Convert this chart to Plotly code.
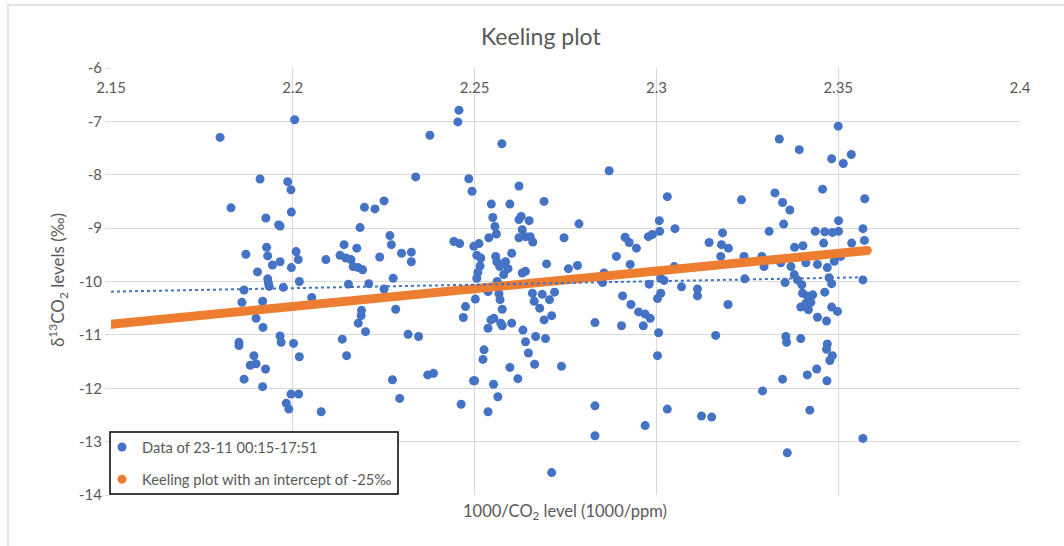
import plotly.graph_objects as go

# ---- data ----
data_x = [
    2.1800, 2.2005, 2.1830, 2.1910, 2.1986, 2.1995, 2.1996, 2.1926, 2.1961, 2.1965,
    2.1871, 2.1928, 2.1931, 2.1944, 2.1965, 2.1996, 2.2009, 2.2015, 2.1903, 2.1931,
    2.1933, 2.1935, 2.1974, 2.2018, 2.1866, 2.1860, 2.1917, 2.1899, 2.1918, 2.1965,
    2.1968, 2.2002, 2.1852, 2.1852, 2.2018, 2.1893, 2.1883, 2.1899, 2.1925, 2.1866,
    2.1917, 2.1995, 2.2016, 2.1982, 2.1989,
    2.2052, 2.2091, 2.2130, 2.2141, 2.2146, 2.2160, 2.2166, 2.2176, 2.2180, 2.2192,
    2.2185, 2.2197, 2.2226, 2.2251, 2.2153, 2.2209, 2.2239, 2.2267, 2.2271, 2.2251,
    2.2276, 2.2299, 2.2326, 2.2326, 2.2338, 2.2377, 2.2457, 2.2454, 2.2484, 2.2493,
    2.2443, 2.2459, 2.2189, 2.2188, 2.2180, 2.2200, 2.2136, 2.2148, 2.2283, 2.2317,
    2.2346, 2.2274, 2.2294, 2.2078, 2.2371, 2.2387, 2.2463, 2.2497, 2.2475, 2.2469,
    2.2575, 2.2622, 2.2546, 2.2597, 2.2691, 2.2870, 2.3030, 2.2550, 2.2556, 2.2560,
    2.2539, 2.2628, 2.2622, 2.2650, 2.2631, 2.2622, 2.2640, 2.2653, 2.2660, 2.2602,
    2.2558, 2.2561, 2.2569, 2.2585, 2.2592, 2.2580, 2.2631, 2.2640, 2.2698, 2.2746,
    2.2787, 2.2758, 2.2783, 2.2856, 2.2852, 2.2890, 2.2914, 2.2925, 2.2945, 2.2928,
    2.2978, 2.2989, 2.3009, 2.3008, 2.2980, 2.3012, 2.3021, 2.3012, 2.3003, 2.2907,
    2.2930, 2.2951, 2.2969, 2.2983, 2.2964, 2.2904, 2.2831, 2.3006, 2.3003, 2.3030,
    2.2969, 2.2831, 2.2831, 2.2712,
    2.2498, 2.2512, 2.2506, 2.2517, 2.2515, 2.2509, 2.2506, 2.2537, 2.2502,
    2.2562, 2.2570, 2.2567, 2.2570, 2.2576, 2.2553, 2.2545, 2.2572, 2.2576, 2.2602,
    2.2537, 2.2659, 2.2664, 2.2686, 2.2706, 2.2679, 2.2720, 2.2691, 2.2712, 2.2633,
    2.2640, 2.2668, 2.2695, 2.2526, 2.2523, 2.2648, 2.2665, 2.2597, 2.2619, 2.2739,
    2.2500, 2.2552, 2.2564, 2.2537,
    2.3500, 2.3338, 2.3393, 2.3482, 2.3514, 2.3536, 2.3234, 2.3326, 2.3347, 2.3367,
    2.3457, 2.3350, 2.3051, 2.3182, 2.3145, 2.3179, 2.3198, 2.3177, 2.3310, 2.3437,
    2.3463, 2.3484, 2.3501, 2.3501, 2.3460, 2.3380, 2.3403, 2.3537, 2.3241, 2.3290,
    2.3296, 2.3243, 2.3049, 2.3069, 2.3113, 2.3113, 2.3197, 2.3342, 2.3370, 2.3379,
    2.3354, 2.3388, 2.3400, 2.3411, 2.3443, 2.3470, 2.3475, 2.3482, 2.3489, 2.3507,
    2.3463, 2.3402, 2.3415, 2.3430, 2.3411, 2.3425, 2.3397, 2.3418, 2.3443, 2.3468,
    2.3482, 2.3498, 2.3163, 2.3356, 2.3358, 2.3397, 2.3470, 2.3468, 2.3484, 2.3477,
    2.3441, 2.3415, 2.3347, 2.3469, 2.3292, 2.3124, 2.3152, 2.3422, 2.3360,
    2.3573, 2.3568, 2.3572, 2.3568, 2.3568,
]
data_y = [
    -7.30, -6.97, -8.62, -8.08, -8.13, -8.28, -8.70, -8.81, -8.94, -8.96,
    -9.49, -9.36, -9.52, -9.69, -9.63, -9.74, -9.44, -9.59, -9.82, -9.95,
    -10.03, -10.09, -10.11, -10.00, -10.16, -10.39, -10.37, -10.69, -10.86, -11.02,
    -11.14, -11.16, -11.14, -11.20, -11.41, -11.39, -11.57, -11.54, -11.64, -11.83,
    -11.97, -12.11, -12.11, -12.28, -12.39,
    -10.30, -9.59, -9.51, -9.31, -9.56, -9.59, -9.72, -9.375, -9.74, -9.78,
    -8.99, -8.61, -8.64, -8.49, -10.05, -10.04, -9.54, -9.14, -9.31, -10.14,
    -9.94, -9.47, -9.45, -9.63, -8.04, -7.26, -6.79, -7.01, -8.075, -8.31,
    -9.25, -9.29, -10.54, -10.64, -10.78, -10.94, -11.08, -11.39, -10.52, -10.99,
    -11.03, -11.84, -12.19, -12.44, -11.75, -11.72, -12.30, -11.86, -10.47, -10.675,
    -7.42, -8.21, -8.55, -8.55, -8.50, -7.925, -8.41, -8.80, -8.97, -9.11,
    -9.18, -8.78, -8.84, -8.86, -9.03, -9.18, -9.16, -9.16, -9.26, -9.47,
    -9.53, -9.63, -9.72, -9.63, -9.76, -9.87, -9.84, -9.81, -9.67, -9.18,
    -8.92, -9.76, -9.70, -9.84, -10.02, -9.53, -9.17, -9.27, -9.375, -9.68,
    -9.16, -9.12, -9.06, -8.86, -10.05, -9.94, -9.98, -10.22, -10.32, -10.27,
    -10.43, -10.57, -10.61, -10.69, -10.83, -10.83, -10.77, -10.96, -11.39, -12.39,
    -12.70, -12.33, -12.89, -13.58,
    -9.34, -9.29, -9.51, -9.56, -9.71, -9.83, -9.94, -10.19, -10.33,
    -10.00, -10.09, -10.23, -10.34, -10.52, -10.69, -10.72, -10.78, -10.83, -10.78,
    -10.875, -10.22, -10.37, -10.24, -10.34, -10.50, -10.20, -10.72, -10.64, -10.91,
    -11.13, -11.03, -11.07, -11.28, -11.46, -11.34, -11.55, -11.61, -11.82, -11.59,
    -11.86, -11.925, -12.16, -12.44,
    -7.09, -7.33, -7.53, -7.70, -7.79, -7.62, -8.47, -8.34, -8.52, -8.66,
    -8.27, -8.925, -9.01, -9.09, -9.27, -9.31, -9.375, -9.53, -9.06, -9.06,
    -9.07, -9.08, -9.06, -8.86, -9.28, -9.36, -9.33, -9.28, -9.53, -9.53,
    -9.72, -9.95, -9.72, -10.10, -10.14, -10.27, -10.43, -9.65, -9.72, -9.87,
    -10.02, -9.97, -10.06, -9.65, -9.68, -9.74, -9.93, -10.04, -9.62, -9.53,
    -10.20, -10.22, -10.27, -10.25, -10.41, -10.39, -10.48, -10.53, -10.67, -10.74,
    -10.48, -10.56, -11.01, -11.03, -11.14, -11.07, -11.17, -11.27, -11.39, -11.48,
    -11.64, -11.75, -11.83, -11.86, -12.05, -12.52, -12.54, -12.41, -13.21,
    -8.45, -9.01, -9.23, -9.97, -12.94,
]

keeling_x = [2.150, 2.200, 2.250, 2.300, 2.358]
keeling_y = [-10.80, -10.47, -10.14, -9.81, -9.42]

trend_x = [2.150, 2.357]
trend_y = [-10.19, -9.92]

x_tickvals = [2.15, 2.2, 2.25, 2.3, 2.35, 2.4]
x_ticktext = ["2.15", "2.2", "2.25", "2.3", "2.35", "2.4"]
y_tickvals = [-14, -13, -12, -11, -10, -9, -8, -7, -6]
y_ticktext = ["-14", "-13", "-12", "-11", "-10", "-9", "-8", "-7", "-6"]

series_names = ["Data of 23-11 00:15-17:51", "Keeling plot with an intercept of -25‰"]

BLUE = "#4472C4"
ORANGE = "#ED7D31"
GRID = "#D9D9D9"
TXT = "#595959"
FONT = "Lato, 'Liberation Sans', sans-serif"

fig = go.Figure()
fig.add_trace(go.Scatter(
    x=data_x, y=data_y, mode="markers", name=series_names[0],
    marker=dict(color=BLUE, size=9, line=dict(width=0)),
    legendgroup="a",
))
fig.add_trace(go.Scatter(
    x=keeling_x, y=keeling_y, mode="lines", showlegend=False,
    line=dict(color=ORANGE, width=9), legendgroup="b",
))
fig.add_trace(go.Scatter(
    x=keeling_x, y=keeling_y, mode="markers", name=series_names[1],
    marker=dict(color=ORANGE, size=9, line=dict(width=0)),
    legendgroup="b",
))
fig.add_trace(go.Scatter(
    x=trend_x, y=trend_y, mode="lines", showlegend=False,
    line=dict(color=BLUE, width=2, dash="dot"),
))

W, H = 1064, 546
L, R, T, B = 111, 1020, 68, 495

def px(xp):
    return (xp - L) / (R - L)

def py(yp):
    return (B - yp) / (B - T)

fig.update_layout(
    width=W, height=H,
    margin=dict(l=L, r=W - R, t=T, b=H - B),
    paper_bgcolor="white", plot_bgcolor="white",
    font=dict(family=FONT, size=14, color=TXT),
    showlegend=True,
    legend=dict(
        x=px(102), y=py(431), xanchor="left", yanchor="top",
        bgcolor="rgba(0,0,0,0)", borderwidth=0,
        font=dict(family=FONT, size=14.7, color=TXT),
        traceorder="grouped", tracegroupgap=10,
        itemwidth=30,
    ),
    xaxis=dict(
        range=[2.15, 2.4], side="top", tickvals=x_tickvals, ticktext=x_ticktext,
        ticklabelposition="inside", ticks="", ticklabeloverflow="allow",
        ticklabelstandoff=11,
        showgrid=True, gridcolor=GRID, gridwidth=1, zeroline=False,
        showline=False, tickfont=dict(family=FONT, size=15, color=TXT),
    ),
    yaxis=dict(
        range=[-14, -6], tickvals=y_tickvals, ticktext=y_ticktext,
        ticks="outside", ticklen=5, tickcolor=GRID, ticklabeloverflow="allow",
        showgrid=True, gridcolor=GRID, gridwidth=1, zeroline=False,
        showline=False, tickfont=dict(family=FONT, size=15, color=TXT),
    ),
    annotations=[
        dict(text="Keeling plot", x=px(541), y=py(36), xref="paper", yref="paper",
             showarrow=False, xanchor="center", yanchor="middle",
             font=dict(family=FONT, size=23, color=TXT)),
        dict(text="1000/CO<sub>2</sub> level (1000/ppm)", x=px(565), y=py(511),
             xref="paper", yref="paper", showarrow=False,
             xanchor="center", yanchor="middle",
             font=dict(family=FONT, size=16.5, color=TXT)),
        dict(text="δ<sup>13</sup>CO<sub>2</sub> levels (‰)", x=px(58), y=py(280),
             xref="paper", yref="paper", showarrow=False, textangle=-90,
             xanchor="center", yanchor="middle",
             font=dict(family=FONT, size=17, color=TXT)),
    ],
    shapes=[
        dict(type="rect", xref="paper", yref="paper",
             x0=px(8), x1=px(1075), y0=py(560), y1=py(5),
             line=dict(color=GRID, width=1.5), layer="below"),
        dict(type="rect", xref="paper", yref="paper",
             x0=px(110), x1=px(398), y0=py(494), y1=py(432),
             line=dict(color="black", width=1.5), fillcolor="white",
             layer="above"),
    ],
)

fig.write_html("out.html")
